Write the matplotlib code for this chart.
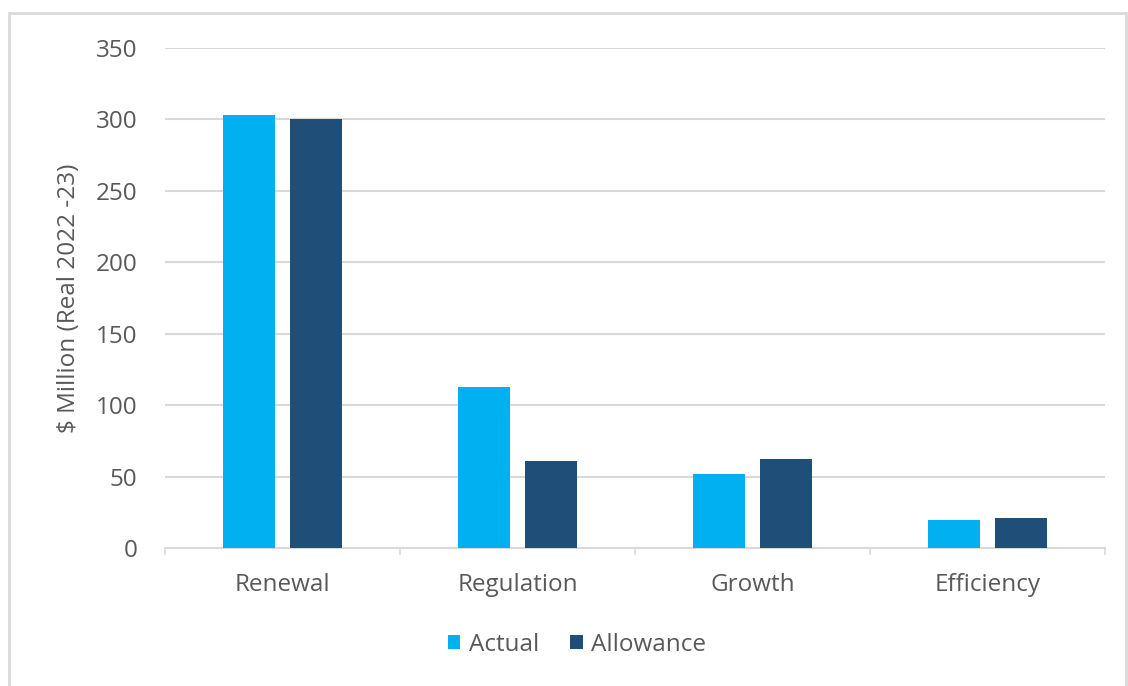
import matplotlib
matplotlib.use("Agg")
import matplotlib.pyplot as plt
import numpy as np
from matplotlib.patches import Rectangle

categories = ["Renewal", "Regulation", "Growth", "Efficiency"]
actual = [303, 113, 52, 19.5]
allowance = [300, 61, 62, 21]
series_names = ["Actual", "Allowance"]
y_ticks = [0, 50, 100, 150, 200, 250, 300, 350]

c_actual = "#00B0F0"
c_allow = "#1F4E79"
text_c = "#595959"
grid_c = "#D9D9D9"
fs = 17.5

plt.rcParams["font.family"] = ["Open Sans", "DejaVu Sans"]

W, H = 1128, 686
fig = plt.figure(figsize=(W / 100, H / 100), dpi=100)
ax = fig.add_axes([165 / W, 1 - 548 / H, (1105 - 165) / W, 500 / H])

x = np.arange(len(categories))
bw = 0.222
ax.bar(x - 0.144, actual, width=bw, color=c_actual, label=series_names[0], zorder=3)
ax.bar(x + 0.144, allowance, width=bw, color=c_allow, label=series_names[1], zorder=3)

ax.set_xlim(-0.5, len(categories) - 0.5)
ax.set_ylim(0, 350)
ax.set_yticks(y_ticks)
ax.set_yticklabels([str(v) for v in y_ticks])
ax.yaxis.grid(True, color=grid_c, linewidth=1.5, zorder=0)
ax.tick_params(axis="y", length=0, pad=20, labelsize=fs, labelcolor=text_c)

ax.set_xticks(x)
ax.set_xticklabels(categories)
ax.tick_params(axis="x", which="major", length=0, pad=18, labelsize=fs, labelcolor=text_c)
ax.set_xticks(np.arange(-0.5, len(categories)), minor=True)
ax.tick_params(axis="x", which="minor", length=5, width=1.2, color=grid_c, direction="out")

for side in ["top", "right", "left"]:
    ax.spines[side].set_visible(False)
ax.spines["bottom"].set_color(grid_c)
ax.spines["bottom"].set_linewidth(1.5)
ax.set_axisbelow(True)

ax.set_ylabel("$ Million (Real 2022 -23)", fontsize=fs, color=text_c)
ax.yaxis.set_label_coords((81 - 165) / (1105 - 165), 0.5)

leg = fig.legend(loc="center", bbox_to_anchor=(577 / W, 1 - 645 / H), ncol=2,
                 frameon=False, fontsize=fs, handlelength=0.5, handleheight=0.5,
                 handletextpad=0.35, columnspacing=1.3)
for t in leg.get_texts():
    t.set_color(text_c)

# outer frame around the chart area
fig.patches.append(Rectangle((8.5 / W, -0.05), (1126 - 8.5) / W, 1.05 - 13.5 / H,
                             transform=fig.transFigure, fill=False,
                             edgecolor="#D9D9D9", linewidth=2))

fig.savefig("out.png", dpi=100)
